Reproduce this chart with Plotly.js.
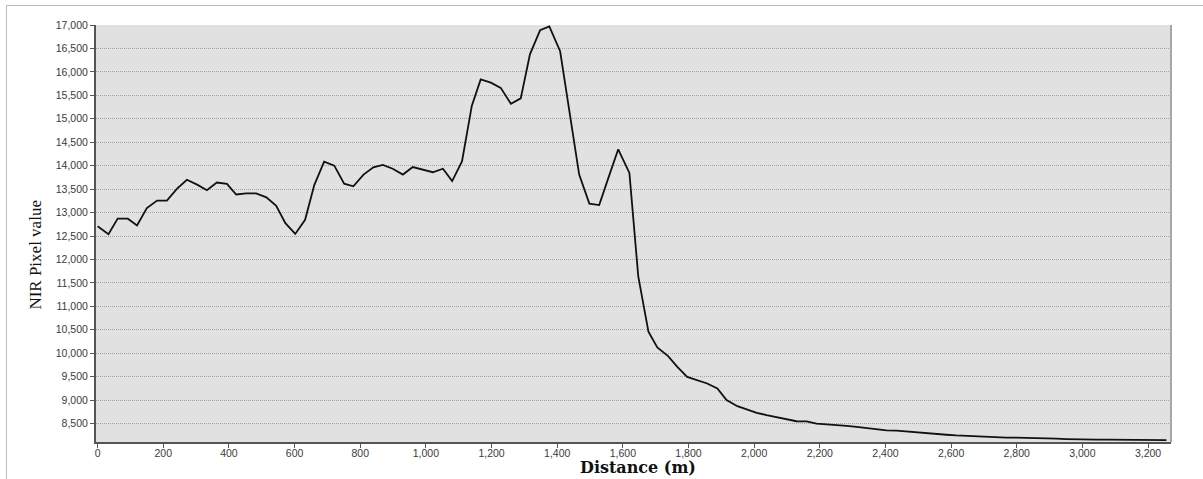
<!DOCTYPE html>
<html>
<head>
<meta charset="utf-8">
<script src="https://cdn.plot.ly/plotly-3.0.1.min.js"></script>
<style>
  html, body { margin: 0; padding: 0; background: #fff; overflow: hidden; }
  #frame { position: absolute; left: 6px; top: 5px; width: 1300px; height: 600px; border-left: 1px solid #bdbdbd; border-top: 1px solid #bdbdbd; }
  #chart { position: absolute; left: 0; top: 0; width: 1203px; height: 479px; }
</style>
</head>
<body>
<div id="frame"></div>
<div id="chart"></div>
<script>
// Distance along profile (m)
const distance = [
  0, 33, 61, 92, 120, 150, 181, 211, 242, 272,
  303, 333, 363, 394, 422, 453, 483, 514, 544, 572,
  602, 632, 660, 690, 721, 751, 779, 810, 840, 869,
  899, 930, 960, 991, 1021, 1052, 1080, 1110, 1140, 1167,
  1198, 1228, 1259, 1289, 1317, 1348, 1376, 1409, 1437, 1467,
  1498, 1528, 1556, 1586, 1620, 1647, 1678, 1705, 1738, 1766,
  1796, 1827, 1857, 1888, 1916, 1949, 1977, 2008, 2038, 2069,
  2099, 2129, 2160, 2190, 2221, 2251, 2282, 2312, 2343, 2373,
  2403, 2434, 2464, 2495, 2525, 2556, 2586, 2616, 2647, 2677,
  2708, 2738, 2768, 2799, 2829, 2860, 2890, 2921, 2951, 2982,
  3012, 3043, 3073, 3104, 3134, 3165, 3195, 3226, 3256
];
// NIR pixel value
const nirValue = [
  12710, 12540, 12870, 12870, 12725, 13095, 13255, 13255, 13510, 13700,
  13595, 13475, 13640, 13610, 13385, 13410, 13410, 13325, 13145, 12775,
  12545, 12845, 13585, 14085, 14000, 13615, 13560, 13810, 13965, 14015,
  13935, 13810, 13970, 13910, 13860, 13935, 13670, 14090, 15280, 15840,
  15770, 15660, 15320, 15435, 16375, 16890, 16970, 16440, 15150, 13810,
  13190, 13160, 13740, 14350, 13845, 11640, 10460, 10125, 9940, 9710,
  9495, 9425, 9355, 9250, 9000, 8870, 8800, 8730, 8680, 8640,
  8600, 8550, 8545, 8500, 8485, 8460, 8450, 8430, 8400, 8372,
  8357, 8350, 8330, 8310, 8290, 8275, 8262, 8248, 8236, 8225,
  8215, 8205, 8202, 8200, 8198, 8194, 8188, 8178, 8170, 8162,
  8160, 8158, 8158, 8157, 8155, 8152, 8150, 8147, 8145
];
const yTicks = [8500, 9000, 9500, 10000, 10500, 11000, 11500, 12000, 12500, 13000, 13500, 14000, 14500, 15000, 15500, 16000, 16500, 17000];
const xTicks = [0, 200, 400, 600, 800, 1000, 1200, 1400, 1600, 1800, 2000, 2200, 2400, 2600, 2800, 3000, 3200];
const xTitle = "Distance (m)";
const yTitle = "NIR Pixel value";

const trace = {
  x: distance, y: nirValue, type: 'scatter', mode: 'lines',
  line: { color: '#111111', width: 1.8 },
  hoverinfo: 'skip'
};

const tickFont = { family: 'Liberation Sans, Arial, sans-serif', size: 10.5, color: '#3a3a3a' };

const layout = {
  width: 1203, height: 479, autosize: false,
  margin: { l: 96, r: 32, t: 25, b: 37, pad: 0 },
  paper_bgcolor: 'rgba(0,0,0,0)',
  plot_bgcolor: '#e1e1e1',
  showlegend: false,
  xaxis: {
    range: [-5, 3270],
    tickvals: xTicks,
    ticktext: xTicks.map(v => v.toLocaleString('en-US')),
    ticks: 'outside', ticklen: 4, tickwidth: 1, tickcolor: '#555555',
    tickfont: tickFont, ticklabelstandoff: -4,
    showgrid: false, zeroline: false,
    showline: true, linecolor: '#555555', linewidth: 2,
    title: { text: '' }
  },
  yaxis: {
    range: [8107, 17000],
    tickvals: yTicks,
    ticktext: yTicks.map(v => v.toLocaleString('en-US')),
    ticks: 'outside', ticklen: 4, tickwidth: 1, tickcolor: '#555555',
    tickfont: tickFont,
    showgrid: true, gridcolor: '#a4a4a4', gridwidth: 1, griddash: '1px,1px',
    zeroline: false,
    showline: true, linecolor: '#555555', linewidth: 2,
    title: { text: '' }
  },
  annotations: [{
    text: yTitle, xref: 'paper', yref: 'paper',
    x: -0.0565, y: 0.45, xanchor: 'center', yanchor: 'middle',
    textangle: -90, showarrow: false,
    font: { family: 'Liberation Serif, Times New Roman, serif', size: 17, color: '#111111' }
  }, {
    text: '<b>' + xTitle + '</b>', xref: 'paper', yref: 'paper',
    x: 0.5045, y: -0.06, xanchor: 'center', yanchor: 'middle',
    showarrow: false,
    font: { family: 'DejaVu Serif, serif', size: 16, color: '#111111' }
  }],
  shapes: [{
    type: 'line', xref: 'paper', yref: 'paper', x0: 1, x1: 1, y0: 0, y1: 1,
    line: { color: '#a6a6a6', width: 2 }
  }]
};

Plotly.newPlot('chart', [trace], layout, { displayModeBar: false, staticPlot: true });
</script>
</body>
</html>
